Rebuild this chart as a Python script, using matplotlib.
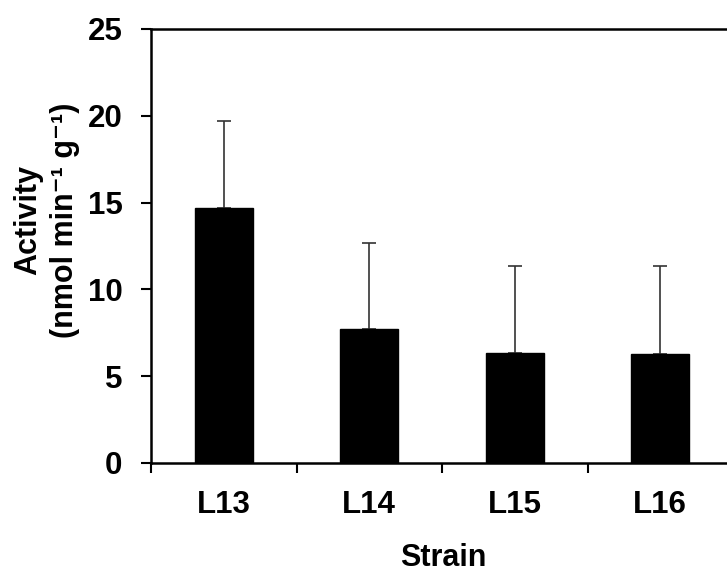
import matplotlib
matplotlib.use('Agg')
import matplotlib.pyplot as plt
import numpy as np

strains = ['L13', 'L14', 'L15', 'L16']
activity = [14.7, 7.7, 6.35, 6.3]
activity_err = [5.0, 5.0, 5.0, 5.05]

plt.rcParams['font.family'] = ['Liberation Sans', 'DejaVu Sans']
plt.rcParams['font.weight'] = 'bold'

fig = plt.figure(figsize=(7.27, 5.74), dpi=100)
# axes run past the right edge of the figure
ax = fig.add_axes([151 / 727, 1 - 463 / 574, 582 / 727, 434 / 574])

x = np.arange(len(strains))
ax.bar(x, activity, width=0.4, color='black', edgecolor='black', zorder=2)
ax.errorbar(x, activity, yerr=[np.zeros(len(x)), activity_err], fmt='none',
            ecolor='#333333', elinewidth=1.2, capsize=4.7, capthick=1.2, zorder=1)

ax.set_xlim(-0.5, len(strains) - 0.5)
ax.set_ylim(0, 25)
ax.set_yticks(range(0, 26, 5))
ax.set_xticks(x)
ax.set_xticklabels(strains)
ax.set_xticks(np.arange(-0.5, len(strains) - 0.4, 1), minor=True)

ax.tick_params(axis='x', which='major', length=0, pad=19.5, labelsize=22.5)
ax.tick_params(axis='x', which='minor', length=7, width=1.5, direction='out')
ax.tick_params(axis='y', length=7, width=1.5, direction='out', pad=13.5, labelsize=22.5)

for s in ['left', 'top', 'bottom']:
    ax.spines[s].set_linewidth(1.8)
ax.spines['right'].set_visible(False)

fig.text(47 / 727, 1 - 220 / 574, 'Activity\n(nmol min\u207b\u00b9 g\u207b\u00b9)',
         rotation=90, ha='center', va='center', fontsize=22, fontweight='bold',
         linespacing=1.3)
fig.text(443.5 / 727, 1 - 566 / 574, 'Strain', ha='center', va='baseline',
         fontsize=22, fontweight='bold')

plt.savefig('out.png', dpi=100)
